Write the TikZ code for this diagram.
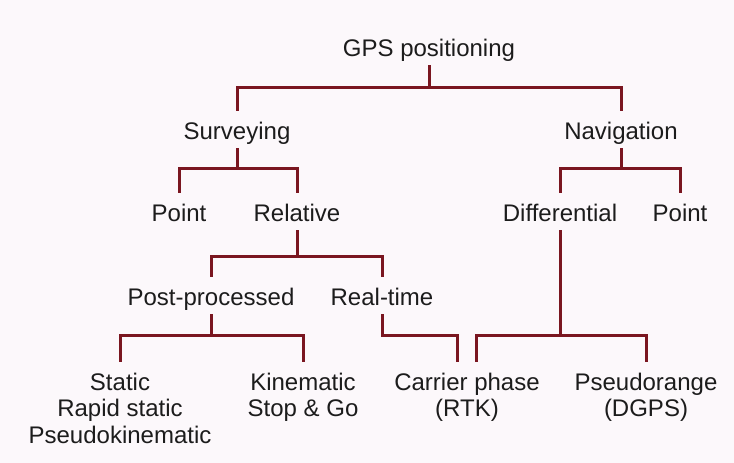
\documentclass[tikz,border=0pt]{standalone}
\usepackage{fontspec}
\setmainfont{Liberation Sans}
\definecolor{treeline}{RGB}{122,22,32}
\definecolor{paper}{RGB}{252,248,251}
\definecolor{ink}{RGB}{28,28,28}
\tikzset{
	term/.style={anchor=base,inner sep=0pt,text height=17.5pt,text=ink,font=\fontsize{24}{26.5}\selectfont},
	termblock/.style={anchor=north,inner sep=0pt,align=center,text=ink,font=\fontsize{24}{26.5}\selectfont},
	branch/.style={treeline,line width=3pt,shorten >=10.5pt}
}
\begin{document}
\begin{tikzpicture}[x=1pt,y=-1pt]
			\fill[paper] (0,0) rectangle (734,463);
			\node[term] (gps) at (429,56) {GPS positioning};
			\node[term] (surv) at (237,139) {Surveying};
			\node[term] (nav) at (621,139) {Navigation};
			\node[term] (pointl) at (179,221) {Point};
			\node[term] (rel) at (297,221) {Relative};
			\node[term] (diff) at (560,221) {Differential};
			\node[term] (pointr) at (680,221) {Point};
			\node[term] (post) at (211,305) {Post-processed};
			\node[term] (real) at (382,305) {Real-time};
			% leaves, first line top at 372.5
			\node[termblock] (static) at (120,372.5) {Static\\Rapid static\\Pseudokinematic};
			\node[termblock] (kin) at (303,372.5) {Kinematic\\Stop \& Go};
			\node[termblock] (carrier) at (467,372.5) {Carrier phase\\(RTK)};
			\node[termblock] (pseudo) at (646,372.5) {Pseudorange\\(DGPS)};
			\foreach \p/\c/\d in {gps/surv/22,gps/nav/22,surv/pointl/20,surv/rel/20,nav/diff/20,nav/pointr/20,rel/post/26,rel/real/26,post/static/21,post/kin/21}
				\draw[branch] ([yshift=-9pt]\p.base) -- ++(0,\d) -| (\c.north);
			\draw[branch] ([yshift=-9pt]real.base) -- ++(0,21) -| ([xshift=-9.5pt]carrier.north);
			\draw[branch] ([yshift=-9pt]diff.base) -- ++(0,105) -| ([xshift=9.5pt]carrier.north);
			\draw[branch] ([yshift=-9pt]diff.base) -- ++(0,105) -| (pseudo.north);
\end{tikzpicture}
\end{document}
